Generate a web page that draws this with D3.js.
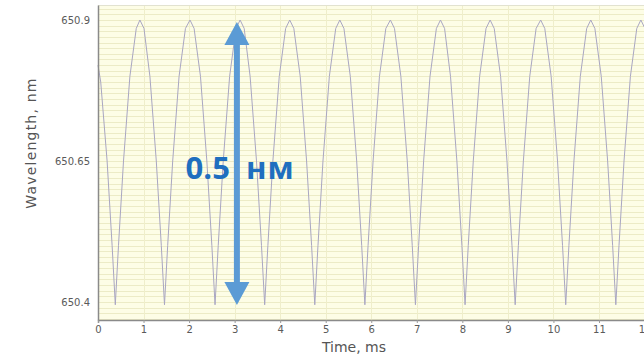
<!DOCTYPE html>
<html>
<head>
<meta charset="utf-8">
<script src="https://cdn.jsdelivr.net/npm/d3@7"></script>
<style>
  body { margin: 0; background: #ffffff; }
  svg { display: block; }
</style>
</head>
<body>
<div id="chart"></div>
<script>
// trace: time (ms) and wavelength (nm)
var timeMs = [
    0.00, 0.06, 0.20, 0.31, 0.38, 0.45, 0.56, 0.70, 0.84, 0.92, 1.01,
    1.14, 1.28, 1.39, 1.46, 1.53, 1.64, 1.78, 1.92, 2.02, 2.11,
    2.25, 2.39, 2.50, 2.57, 2.64, 2.75, 2.89, 3.03, 3.12, 3.21,
    3.34, 3.48, 3.59, 3.66, 3.73, 3.84, 3.98, 4.12, 4.21, 4.30,
    4.44, 4.58, 4.69, 4.76, 4.83, 4.94, 5.08, 5.22, 5.31, 5.40,
    5.54, 5.68, 5.79, 5.86, 5.93, 6.04, 6.18, 6.32, 6.42, 6.51,
    6.65, 6.79, 6.90, 6.97, 7.04, 7.15, 7.29, 7.43, 7.52, 7.61,
    7.74, 7.88, 7.99, 8.06, 8.13, 8.24, 8.38, 8.52, 8.61, 8.70,
    8.84, 8.98, 9.09, 9.16, 9.23, 9.34, 9.48, 9.62, 9.72, 9.81,
    9.95, 10.09, 10.20, 10.27, 10.34, 10.45, 10.59, 10.73, 10.82, 10.91,
    11.05, 11.19, 11.30, 11.37, 11.44, 11.55, 11.69, 11.83, 11.92, 12.01,
    12.10
];
var wavelengthNm = [
    650.82, 650.79, 650.65, 650.50, 650.395, 650.50, 650.65, 650.80, 650.885, 650.90, 650.885,
    650.80, 650.65, 650.50, 650.395, 650.50, 650.65, 650.80, 650.885, 650.90, 650.885,
    650.80, 650.65, 650.50, 650.395, 650.50, 650.65, 650.80, 650.885, 650.90, 650.885,
    650.80, 650.65, 650.50, 650.395, 650.50, 650.65, 650.80, 650.885, 650.90, 650.885,
    650.80, 650.65, 650.50, 650.395, 650.50, 650.65, 650.80, 650.885, 650.90, 650.885,
    650.80, 650.65, 650.50, 650.395, 650.50, 650.65, 650.80, 650.885, 650.90, 650.885,
    650.80, 650.65, 650.50, 650.395, 650.50, 650.65, 650.80, 650.885, 650.90, 650.885,
    650.80, 650.65, 650.50, 650.395, 650.50, 650.65, 650.80, 650.885, 650.90, 650.885,
    650.80, 650.65, 650.50, 650.395, 650.50, 650.65, 650.80, 650.885, 650.90, 650.885,
    650.80, 650.65, 650.50, 650.395, 650.50, 650.65, 650.80, 650.885, 650.90, 650.885,
    650.80, 650.65, 650.50, 650.395, 650.50, 650.65, 650.80, 650.885, 650.90, 650.885,
    650.83
];

var xTicks = [0, 1, 2, 3, 4, 5, 6, 7, 8, 9, 10, 11, 12];
var yTicks = [650.4, 650.65, 650.9];
var yTickLabels = ["650.4", "650.65", "650.9"];

// annotation: span marked by the blue arrow
var spanTime = 3.05;
var spanFrom = 650.4;
var spanTo = 650.9;
var spanLabel = ["0.5", "нм"];

//=================== LAYOUT ====================================
var svgWidth = 644,
    svgHeight = 358;
var margin = { left: 98, top: 5, bottom: 38 };
var plotRight = 660;
var plotBottom = svgHeight - margin.bottom;

var svg = d3.select("#chart")
    .append("svg")
    .attr("width", svgWidth)
    .attr("height", svgHeight);

var x = d3.scaleLinear()
    .domain([0, 12.34])
    .range([margin.left, plotRight]);

var y = d3.scaleLinear()
    .domain([650.368, 650.9266])
    .range([plotBottom, margin.top]);

// plot background
svg.append("rect")
    .attr("x", margin.left)
    .attr("y", margin.top)
    .attr("width", plotRight - margin.left)
    .attr("height", plotBottom - margin.top)
    .attr("fill", "#fdfde6");

// dense horizontal grid every 0.01 nm
var gridY = d3.range(650.37, 650.93, 0.01);
svg.append("g")
    .selectAll("line")
    .data(gridY)
    .enter()
    .append("line")
    .attr("x1", margin.left)
    .attr("x2", plotRight)
    .attr("y1", function (d) { return Math.round(y(d)) + 0.5; })
    .attr("y2", function (d) { return Math.round(y(d)) + 0.5; })
    .attr("stroke", "#ecebc6")
    .attr("stroke-width", 1);

// vertical grid at the ticks
svg.append("g")
    .selectAll("line")
    .data(xTicks)
    .enter()
    .append("line")
    .attr("x1", function (d) { return Math.round(x(d)) + 0.5; })
    .attr("x2", function (d) { return Math.round(x(d)) + 0.5; })
    .attr("y1", margin.top)
    .attr("y2", plotBottom)
    .attr("stroke", "#efeecb")
    .attr("stroke-width", 1);

// top border
svg.append("line")
    .attr("x1", margin.left).attr("x2", plotRight)
    .attr("y1", margin.top + 0.5).attr("y2", margin.top + 0.5)
    .attr("stroke", "#e2e2d0");

// trace
var line = d3.line()
    .x(function (d) { return x(d[0]); })
    .y(function (d) { return y(d[1]); });

svg.append("path")
    .datum(d3.zip(timeMs, wavelengthNm))
    .attr("d", line)
    .attr("fill", "none")
    .attr("stroke", "#a9a6c2")
    .attr("stroke-width", 1);

//=================== AXES ====================================
var xAxis = d3.axisBottom(x)
    .tickValues(xTicks)
    .tickSize(3)
    .tickFormat(d3.format("d"));

var gx = svg.append("g")
    .attr("transform", "translate(0," + plotBottom + ")")
    .call(xAxis);

var yAxis = d3.axisLeft(y)
    .tickValues(yTicks)
    .tickSize(0)
    .tickPadding(8)
    .tickFormat(function (d, i) { return yTickLabels[i]; });

var gy = svg.append("g")
    .attr("transform", "translate(" + margin.left + ",0)")
    .call(yAxis);

[gx, gy].forEach(function (g) {
    g.select(".domain").attr("stroke", "#8a8a8a").attr("stroke-width", 1.5);
    g.selectAll(".tick line").attr("stroke", "#9a9a9a");
    g.selectAll("text")
        .attr("fill", "#5a5a5a")
        .style("font-family", "DejaVu Sans, sans-serif")
        .style("font-size", "10px");
});

svg.append("text")
    .attr("x", 354)
    .attr("y", 352)
    .attr("text-anchor", "middle")
    .attr("fill", "#555")
    .style("font-family", "DejaVu Sans, sans-serif")
    .style("font-size", "14px")
    .text("Time, ms");

svg.append("text")
    .attr("transform", "translate(36," + 143 + ") rotate(-90)")
    .attr("text-anchor", "middle")
    .attr("fill", "#555")
    .style("font-family", "DejaVu Sans, sans-serif")
    .style("font-size", "14px")
    .style("letter-spacing", "1.2px")
    .text("Wavelength, nm");

//=================== ANNOTATION ====================================
var ax = x(spanTime);
var yTop = y(spanTo) + 2;
var yBot = y(spanFrom) + 3;
var headLen = 23, headHalf = 12.5;
var arrowColour = "#5b9bd5";

svg.append("line")
    .attr("x1", ax).attr("x2", ax)
    .attr("y1", yTop + headLen - 2)
    .attr("y2", yBot - headLen + 2)
    .attr("stroke", arrowColour)
    .attr("stroke-width", 6);

svg.append("path")
    .attr("d", "M" + ax + "," + yTop + "L" + (ax + headHalf) + "," + (yTop + headLen) +
        "L" + (ax - headHalf) + "," + (yTop + headLen) + "Z")
    .attr("fill", arrowColour);

svg.append("path")
    .attr("d", "M" + ax + "," + yBot + "L" + (ax + headHalf) + "," + (yBot - headLen) +
        "L" + (ax - headHalf) + "," + (yBot - headLen) + "Z")
    .attr("fill", arrowColour);

var labelY = y((spanFrom + spanTo) / 2) + 18;
svg.append("text")
    .attr("x", ax - 7)
    .attr("y", labelY)
    .attr("text-anchor", "end")
    .attr("fill", "#1f6fbf")
    .style("font-family", "Open Sans, sans-serif")
    .style("font-weight", "bold")
    .style("font-size", "31px")
    .text(spanLabel[0]);

svg.append("text")
    .attr("x", ax + 9)
    .attr("y", labelY)
    .attr("text-anchor", "start")
    .attr("fill", "#1f6fbf")
    .style("font-family", "Open Sans, sans-serif")
    .style("font-weight", "bold")
    .style("font-size", "31px")
    .style("letter-spacing", "1px")
    .text(spanLabel[1]);
</script>
</body>
</html>
